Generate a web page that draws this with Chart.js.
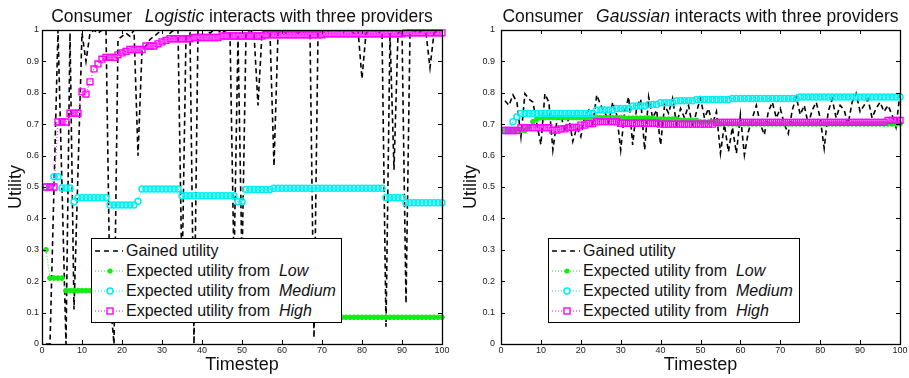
<!DOCTYPE html>
<html>
<head>
<meta charset="utf-8">
<script src="https://cdn.jsdelivr.net/npm/chart.js@4.4.0/dist/chart.umd.min.js"></script>
<style>
    body { margin: 0; background: #fff; width: 909px; height: 378px; position: relative; overflow: hidden;
           font-family: "Liberation Sans", Arial, sans-serif; color: #111; }
    canvas { position: absolute; top: 0; }
    .title { position: absolute; top: 7px; font-size: 17.5px; line-height: 18px; text-align: center; white-space: nowrap; }
    .title i { margin-left: 8px; }
    .legend { position: absolute; top: 238px; height: 85px; box-sizing: border-box; border: 1px solid #000;
              background: #fff; padding-top: 2px; font-size: 16px; }
    .row { display: flex; align-items: center; height: 20px; line-height: 20px; white-space: nowrap; }
    .row svg { margin-left: 3px; margin-right: 1px; flex: none; }
</style>
</head>
<body>
<canvas id="leftChart" width="455" height="378" style="left:0"></canvas>
<canvas id="rightChart" width="454" height="378" style="left:455px"></canvas>

<div class="title" style="left:42px; width:400px">Consumer <i>Logistic</i> interacts with three providers</div>
<div class="title" style="left:501px; width:399px">Consumer <i>Gaussian</i> interacts with three providers</div>

<div class="legend" style="left:91px; width:251px" id="legendLeft"></div>
<div class="legend" style="left:548px; width:252px" id="legendRight"></div>

<script>
// timesteps 1..100
const timesteps = Array.from({ length: 100 }, (_, i) => i + 1);
const xTickLabels = ['0', '10', '20', '30', '40', '50', '60', '70', '80', '90', '100'];
const yTickLabels = ['0', '0.1', '0.2', '0.3', '0.4', '0.5', '0.6', '0.7', '0.8', '0.9', '1'];

const seriesNames = ['Gained utility', 'Expected utility from', 'Expected utility from', 'Expected utility from'];
const providerNames = ['', 'Low', 'Medium', 'High'];

// Consumer Logistic
const leftGained = [
    0.0, 0.0, 0.5, 1.0, 0.5, 0.0, 0.99, 0.11, 0.55, 0.99,
    0.9, 0.99, 1.0, 0.99, 1.0, 1.0, 0.15, 0.0, 0.97, 0.98,
    0.99, 0.98, 1.0, 0.6, 0.935, 0.95, 0.97, 0.98, 0.99, 1.0,
    1.0, 0.99, 1.0, 1.0, 0.2, 0.98, 0.99, 0.0, 1.0, 1.0,
    1.0, 0.99, 1.0, 1.0, 0.99, 1.0, 0.99, 0.25, 0.98, 0.25,
    0.99, 1.0, 0.99, 0.76, 0.99, 1.0, 0.99, 0.567, 0.99, 1.0,
    0.99, 1.0, 1.0, 0.99, 1.0, 1.0, 0.99, 0.02, 0.99, 1.0,
    0.99, 1.0, 1.0, 1.0, 0.99, 1.0, 1.0, 0.99, 1.0, 0.845,
    0.99, 1.0, 1.0, 0.99, 1.0, 0.055, 0.99, 0.555, 0.99, 1.0,
    0.13, 0.99, 1.0, 0.99, 1.0, 0.99, 0.88, 0.99, 1.0, 1.0
];
const leftLow = [
    0.30, 0.21, 0.21, 0.21, 0.21, 0.17, 0.17, 0.17, 0.17, 0.17,
    0.17, 0.17, 0.17, 0.17, 0.17, 0.17, 0.17, 0.085, 0.085, 0.085,
    0.085, 0.085, 0.085, 0.085, 0.085, 0.085, 0.085, 0.085, 0.085, 0.085,
    0.085, 0.085, 0.085, 0.085, 0.085, 0.085, 0.085, 0.085, 0.085, 0.085,
    0.085, 0.085, 0.085, 0.085, 0.085, 0.085, 0.085, 0.085, 0.085, 0.085,
    0.085, 0.085, 0.085, 0.085, 0.085, 0.085, 0.085, 0.085, 0.085, 0.085,
    0.085, 0.085, 0.085, 0.085, 0.085, 0.085, 0.085, 0.085, 0.085, 0.085,
    0.085, 0.085, 0.085, 0.085, 0.085, 0.085, 0.085, 0.085, 0.085, 0.085,
    0.085, 0.085, 0.085, 0.085, 0.085, 0.085, 0.085, 0.085, 0.085, 0.085,
    0.085, 0.085, 0.085, 0.085, 0.085, 0.085, 0.085, 0.085, 0.085, 0.085
];
const leftMedium = [
    0.5, 0.5, 0.533, 0.533, 0.497, 0.497, 0.497, 0.453, 0.466, 0.466,
    0.466, 0.466, 0.466, 0.466, 0.466, 0.466, 0.443, 0.443, 0.443, 0.443,
    0.443, 0.443, 0.443, 0.455, 0.494, 0.494, 0.494, 0.494, 0.494, 0.494,
    0.494, 0.494, 0.494, 0.494, 0.472, 0.472, 0.472, 0.472, 0.472, 0.472,
    0.472, 0.472, 0.472, 0.472, 0.472, 0.472, 0.472, 0.472, 0.453, 0.453,
    0.492, 0.492, 0.492, 0.492, 0.492, 0.492, 0.492, 0.496, 0.496, 0.496,
    0.496, 0.496, 0.496, 0.496, 0.496, 0.496, 0.496, 0.496, 0.496, 0.496,
    0.496, 0.496, 0.496, 0.496, 0.496, 0.496, 0.496, 0.496, 0.496, 0.496,
    0.496, 0.496, 0.496, 0.496, 0.496, 0.466, 0.466, 0.466, 0.466, 0.466,
    0.45, 0.45, 0.45, 0.45, 0.45, 0.45, 0.45, 0.45, 0.45, 0.45
];
const leftHigh = [
    0.5, 0.5, 0.5, 0.707, 0.707, 0.707, 0.735, 0.735, 0.735, 0.803,
    0.796, 0.835, 0.876, 0.892, 0.907, 0.913, 0.913, 0.913, 0.921, 0.927,
    0.932, 0.938, 0.938, 0.938, 0.938, 0.949, 0.949, 0.949, 0.956, 0.962,
    0.967, 0.972, 0.972, 0.972, 0.972, 0.972, 0.972, 0.976, 0.976, 0.976,
    0.976, 0.976, 0.976, 0.976, 0.981, 0.981, 0.981, 0.981, 0.981, 0.981,
    0.981, 0.981, 0.981, 0.981, 0.981, 0.985, 0.985, 0.985, 0.985, 0.985,
    0.985, 0.985, 0.985, 0.985, 0.985, 0.985, 0.985, 0.985, 0.985, 0.985,
    0.988, 0.988, 0.988, 0.988, 0.988, 0.988, 0.988, 0.988, 0.988, 0.988,
    0.988, 0.988, 0.988, 0.988, 0.988, 0.988, 0.988, 0.988, 0.988, 0.988,
    0.991, 0.991, 0.991, 0.991, 0.991, 0.991, 0.991, 0.991, 0.991, 0.991
];

// Consumer Gaussian
const rightGained = [
    0.775, 0.76, 0.793, 0.77, 0.66, 0.797, 0.78, 0.77, 0.70, 0.635,
    0.797, 0.77, 0.618, 0.71, 0.73, 0.676, 0.72, 0.645, 0.69, 0.66,
    0.725, 0.745, 0.70, 0.793, 0.76, 0.74, 0.705, 0.77, 0.73, 0.618,
    0.74, 0.787, 0.634, 0.755, 0.78, 0.618, 0.787, 0.72, 0.745, 0.634,
    0.76, 0.735, 0.782, 0.70, 0.75, 0.72, 0.76, 0.69, 0.74, 0.782,
    0.72, 0.75, 0.70, 0.74, 0.607, 0.70, 0.612, 0.69, 0.607, 0.73,
    0.602, 0.676, 0.72, 0.76, 0.70, 0.666, 0.74, 0.77, 0.72, 0.75,
    0.70, 0.67, 0.745, 0.787, 0.73, 0.76, 0.70, 0.745, 0.77, 0.72,
    0.623, 0.74, 0.78, 0.72, 0.76, 0.745, 0.70, 0.77, 0.798, 0.74,
    0.76, 0.78, 0.72, 0.75, 0.77, 0.74, 0.76, 0.73, 0.69, 0.798
];
const rightLow = [
    0.68, 0.68, 0.68, 0.68, 0.68, 0.68, 0.69, 0.708, 0.716, 0.721,
    0.721, 0.721, 0.721, 0.721, 0.721, 0.721, 0.721, 0.721, 0.721, 0.721,
    0.721, 0.721, 0.721, 0.721, 0.721, 0.721, 0.721, 0.721, 0.721, 0.721,
    0.719, 0.719, 0.719, 0.719, 0.719, 0.719, 0.719, 0.719, 0.716, 0.716,
    0.716, 0.716, 0.716, 0.716, 0.712, 0.712, 0.712, 0.712, 0.712, 0.707,
    0.707, 0.707, 0.707, 0.707, 0.701, 0.701, 0.701, 0.701, 0.701, 0.701,
    0.701, 0.701, 0.701, 0.701, 0.701, 0.701, 0.701, 0.701, 0.701, 0.701,
    0.701, 0.701, 0.701, 0.701, 0.701, 0.701, 0.701, 0.701, 0.701, 0.701,
    0.701, 0.701, 0.701, 0.701, 0.701, 0.701, 0.701, 0.701, 0.701, 0.701,
    0.701, 0.701, 0.701, 0.701, 0.701, 0.701, 0.701, 0.701, 0.701, 0.701
];
const rightMedium = [
    0.68, 0.68, 0.708, 0.724, 0.734, 0.734, 0.734, 0.734, 0.734, 0.734,
    0.734, 0.734, 0.734, 0.734, 0.734, 0.734, 0.734, 0.734, 0.734, 0.734,
    0.734, 0.734, 0.734, 0.745, 0.745, 0.745, 0.745, 0.745, 0.75, 0.75,
    0.75, 0.75, 0.758, 0.758, 0.758, 0.758, 0.763, 0.763, 0.763, 0.768,
    0.768, 0.768, 0.768, 0.775, 0.775, 0.775, 0.775, 0.775, 0.779, 0.779,
    0.779, 0.779, 0.779, 0.779, 0.779, 0.779, 0.779, 0.782, 0.782, 0.782,
    0.782, 0.782, 0.782, 0.782, 0.782, 0.782, 0.782, 0.782, 0.782, 0.782,
    0.782, 0.782, 0.782, 0.782, 0.787, 0.787, 0.787, 0.787, 0.787, 0.787,
    0.787, 0.787, 0.787, 0.787, 0.787, 0.787, 0.787, 0.787, 0.787, 0.787,
    0.787, 0.787, 0.787, 0.787, 0.787, 0.787, 0.787, 0.787, 0.787, 0.787
];
const rightHigh = [
    0.68, 0.68, 0.68, 0.68, 0.689, 0.689, 0.689, 0.689, 0.689, 0.689,
    0.689, 0.689, 0.681, 0.681, 0.685, 0.685, 0.69, 0.69, 0.69, 0.697,
    0.697, 0.702, 0.702, 0.708, 0.708, 0.708, 0.708, 0.708, 0.708, 0.703,
    0.703, 0.703, 0.703, 0.703, 0.703, 0.703, 0.703, 0.703, 0.703, 0.70,
    0.70, 0.70, 0.70, 0.70, 0.70, 0.70, 0.70, 0.70, 0.70, 0.70,
    0.70, 0.70, 0.70, 0.706, 0.706, 0.706, 0.706, 0.706, 0.706, 0.706,
    0.706, 0.706, 0.706, 0.706, 0.706, 0.706, 0.706, 0.706, 0.706, 0.706,
    0.706, 0.706, 0.706, 0.706, 0.706, 0.706, 0.706, 0.706, 0.706, 0.706,
    0.706, 0.706, 0.706, 0.706, 0.706, 0.706, 0.706, 0.706, 0.706, 0.706,
    0.706, 0.706, 0.706, 0.706, 0.706, 0.706, 0.712, 0.712, 0.712, 0.712
];

const GREEN = 'rgb(20,235,20)';
const CYAN = 'rgb(0,240,240)';
const MAGENTA = 'rgb(255,0,255)';
const FONT = '"Liberation Sans", Arial, sans-serif';

// MATLAB-like box with inward ticks on all four sides
const boxTicks = {
    id: 'boxTicks',
    afterDraw(chart) {
        const { ctx, chartArea: a, scales: { x, y } } = chart;
        ctx.save();
        ctx.strokeStyle = '#000';
        ctx.lineWidth = 1;
        ctx.beginPath();
        x.ticks.forEach(t => {
            const px = Math.round(x.getPixelForValue(t.value)) + 0.5;
            ctx.moveTo(px, a.bottom); ctx.lineTo(px, a.bottom - 4);
            ctx.moveTo(px, a.top); ctx.lineTo(px, a.top + 4);
        });
        y.ticks.forEach(t => {
            const py = Math.round(y.getPixelForValue(t.value)) + 0.5;
            ctx.moveTo(a.left, py); ctx.lineTo(a.left + 4, py);
            ctx.moveTo(a.right, py); ctx.lineTo(a.right - 4, py);
        });
        ctx.stroke();
        ctx.lineWidth = 1.3;
        ctx.strokeRect(Math.round(a.left) + 0.5, Math.round(a.top) + 0.5,
                       Math.round(a.right - a.left), Math.round(a.bottom - a.top));
        ctx.restore();
    }
};

function points(values) {
    return timesteps.map((t, i) => ({ x: t, y: values[i] }));
}

function makeChart(id, gained, low, medium, high, yWidth, yPad, rightPad) {
    new Chart(document.getElementById(id), {
        type: 'line',
        data: {
            datasets: [
                { label: seriesNames[0], data: points(gained), borderColor: '#000', borderWidth: 1.6,
                  borderDash: [5, 3.5], pointRadius: 0, order: 4 },
                { label: seriesNames[1] + ' ' + providerNames[1], data: points(low), borderColor: GREEN,
                  borderWidth: 1, borderDash: [1, 2], pointStyle: 'circle', pointRadius: 2.4,
                  pointBackgroundColor: GREEN, pointBorderColor: GREEN, pointBorderWidth: 1, order: 3, clip: false },
                { label: seriesNames[2] + ' ' + providerNames[2], data: points(medium), borderColor: CYAN,
                  borderWidth: 1, borderDash: [1, 2], pointStyle: 'circle', pointRadius: 3,
                  pointBackgroundColor: 'rgba(0,0,0,0)', pointBorderColor: CYAN, pointBorderWidth: 1.5, order: 2, clip: false },
                { label: seriesNames[3] + ' ' + providerNames[3], data: points(high), borderColor: MAGENTA,
                  borderWidth: 1, borderDash: [1, 2], pointStyle: 'rect', pointRadius: 4.2,
                  pointBackgroundColor: 'rgba(0,0,0,0)', pointBorderColor: MAGENTA, pointBorderWidth: 1.4, order: 1, clip: false }
            ]
        },
        options: {
            responsive: false,
            animation: false,
            layout: { padding: { top: 30, right: rightPad, left: 0, bottom: 0 } },
            elements: { line: { tension: 0 } },
            plugins: { legend: { display: false }, tooltip: { enabled: false } },
            scales: {
                x: {
                    type: 'linear', min: 0, max: 100,
                    grid: { display: false, drawTicks: false }, border: { display: false },
                    ticks: { stepSize: 10, maxRotation: 0, padding: 1, color: '#222',
                             font: { family: FONT, size: 9 },
                             callback: (v, i) => xTickLabels[i] },
                    title: { display: true, text: 'Timestep', color: '#111',
                             font: { family: FONT, size: 18 }, padding: { top: 0, bottom: 2 } },
                    afterFit: s => { s.height = 34; }
                },
                y: {
                    min: 0, max: 1,
                    grid: { display: false, drawTicks: false }, border: { display: false },
                    ticks: { stepSize: 0.1, padding: yPad, color: '#222',
                             font: { family: FONT, size: 9 },
                             callback: (v, i) => yTickLabels[i] },
                    title: { display: true, text: 'Utility', color: '#111',
                             font: { family: FONT, size: 18 }, padding: { top: 5, bottom: 0 } },
                    afterFit: s => { s.width = yWidth; }
                }
            }
        },
        plugins: [boxTicks]
    });
}

makeChart('leftChart', leftGained, leftLow, leftMedium, leftHigh, 42, 3, 13);
makeChart('rightChart', rightGained, rightLow, rightMedium, rightHigh, 46, 6, 9);

// legend samples
const samples = [
    '<line x1="0" y1="10" x2="28" y2="10" stroke="#000" stroke-width="1.6" stroke-dasharray="5 4"/>',
    '<line x1="0" y1="10" x2="28" y2="10" stroke="' + GREEN + '" stroke-width="1" stroke-dasharray="1 2"/>' +
        '<circle cx="15" cy="10" r="2.6" fill="' + GREEN + '"/>',
    '<line x1="0" y1="10" x2="28" y2="10" stroke="' + CYAN + '" stroke-width="1" stroke-dasharray="1 2"/>' +
        '<circle cx="15" cy="10" r="3" fill="#fff" stroke="' + CYAN + '" stroke-width="1.5"/>',
    '<line x1="0" y1="10" x2="28" y2="10" stroke="' + MAGENTA + '" stroke-width="1" stroke-dasharray="1 2"/>' +
        '<rect x="12" y="7" width="6" height="6" fill="#fff" stroke="' + MAGENTA + '" stroke-width="1.4"/>'
];

function fillLegend(id) {
    const box = document.getElementById(id);
    box.innerHTML = seriesNames.map((name, i) =>
        '<div class="row"><svg width="30" height="20">' + samples[i] + '</svg><span>' + name +
        (providerNames[i] ? '&nbsp; <i>' + providerNames[i] + '</i>' : '') + '</span></div>'
    ).join('');
}
fillLegend('legendLeft');
fillLegend('legendRight');
</script>
</body>
</html>
